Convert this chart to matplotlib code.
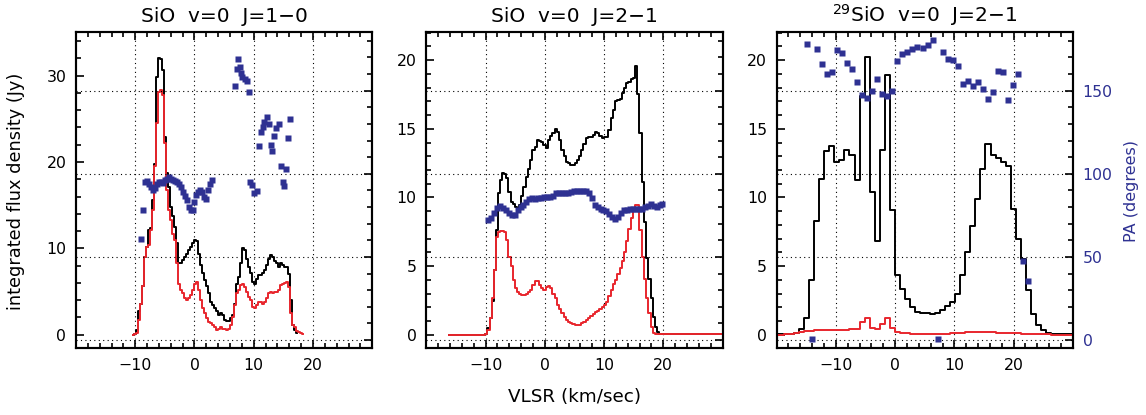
import matplotlib.pyplot as plt
from matplotlib.ticker import MultipleLocator

plt.rcParams['font.family'] = ['DejaVu Sans']

BLUE = '#2e3192'
RED = '#e8262d'

# ---- SiO v=0 J=1-0 ----
v1 = [-10.33, -9.99, -9.66, -9.32, -8.98, -8.65, -8.31, -7.97, -7.64, -7.30,
      -6.96, -6.63, -6.29, -5.95, -5.62, -5.28, -4.94, -4.61, -4.27, -3.93,
      -3.60, -3.26, -2.92, -2.58, -2.25, -1.91, -1.57, -1.24, -0.90, -0.56,
      -0.23, 0.11, 0.45, 0.78, 1.12, 1.46, 1.79, 2.13, 2.47, 2.80,
      3.14, 3.48, 3.81, 4.15, 4.49, 4.82, 5.16, 5.50, 5.83, 6.17,
      6.51, 6.84, 7.18, 7.52, 7.85, 8.19, 8.53, 8.86, 9.20, 9.54,
      9.87, 10.21, 10.55, 10.88, 11.22, 11.56, 11.89, 12.23, 12.57, 12.90,
      13.24, 13.58, 13.91, 14.25, 14.59, 14.92, 15.26, 15.60, 15.93, 16.27,
      16.61, 16.94, 17.28, 17.62, 17.95, 18.29]
black1 = [0, 0.1, 0.5, 2.7, 3.6, 5.6, 9.0, 10.2, 12.1, 12.4,
          15.6, 19.8, 29.9, 32.1, 31.9, 30.7, 22.9, 18.7, 17.1, 14.8,
          13.7, 12.5, 10.6, 8.3, 8.3, 8.6, 9.0, 9.4, 9.8, 10.2,
          10.6, 11.0, 10.8, 9.4, 8.1, 7.1, 6.3, 5.6, 4.8, 3.8,
          3.4, 3.1, 2.7, 2.3, 2.5, 2.3, 1.7, 1.6, 1.6, 1.9,
          2.3, 3.6, 5.9, 6.7, 8.3, 10.1, 9.8, 8.8, 7.9, 7.1,
          6.1, 5.9, 6.5, 6.9, 6.9, 7.1, 7.5, 8.1, 8.8, 9.2,
          9.0, 8.5, 8.3, 7.9, 8.3, 8.1, 7.9, 7.9, 7.0, 4.0,
          1.1, 0.5, 0.15]
red1 = [0, 0.05, 0.2, 1.7, 3.6, 5.6, 9.0, 10.2, 10.4, 12.1,
        14.4, 19.5, 24.5, 28.1, 28.4, 27.8, 22.2, 16.8, 14.4, 13.3,
        11.7, 11.0, 8.3, 5.9, 5.2, 4.8, 4.2, 4.0, 4.2, 4.6,
        5.2, 5.9, 6.1, 5.2, 4.0, 3.1, 2.5, 1.9, 1.5, 1.3,
        1.1, 0.9, 0.6, 0.7, 0.9, 0.7, 0.7, 0.6, 0.7, 1.1,
        2.1, 3.4, 4.8, 5.2, 5.8, 5.9, 5.5, 5.0, 4.4, 4.0,
        3.2, 3.1, 3.4, 3.8, 3.8, 3.6, 3.8, 4.2, 4.8, 5.0,
        4.8, 5.0, 5.0, 5.2, 5.8, 5.9, 6.0, 6.1, 5.5, 2.5,
        1.1, 0.9, 0.4, 0.3, 0.25, 0.1]
pa1_v = [-9.0, -8.67, -8.33, -8.0, -7.67, -7.33, -7.0, -6.67, -6.33, -6.0,
         -5.67, -5.33, -5.0, -4.67, -4.33, -4.0, -3.67, -3.33, -3.0, -2.67,
         -2.33, -2.0, -1.67, -1.33, -1.0, -0.67, -0.33, 0.0, 0.33, 0.67,
         1.0, 1.33, 1.67, 2.0, 2.33, 2.67, 3.0,
         6.9, 7.1, 7.35, 7.6, 7.85, 8.1, 8.45, 8.8, 9.2, 9.4,
         9.7, 10.1, 10.5, 10.9, 11.2, 11.5, 11.8, 12.2, 12.6, 12.95,
         13.1, 13.45, 13.8, 14.25, 14.6, 14.95, 15.15, 15.45, 15.8, 16.2]
pa1 = [61, 78, 95, 95.5, 94, 92, 90, 91.5, 94, 95,
       95, 94.5, 96, 97, 98, 97, 96, 95.5, 95, 94,
       92, 89, 86.5, 84, 80, 78, 78.5, 83, 87, 89,
       90, 89, 86, 85, 90, 94, 96,
       153, 163, 169, 164, 160.5, 158.5, 157, 156, 149, 95,
       93.5, 88.5, 89.5, 117, 125, 128, 131, 134, 130, 117.5,
       114, 122.5, 127.5, 130, 104.5, 95, 92.8, 103, 121.7, 133]

# ---- SiO v=0 J=2-1 ----
v2 = [-16.1, -10.28, -9.9, -9.5, -9.1, -8.76, -8.45, -8.1, -7.75, -7.4, -7.05,
      -6.7, -6.3, -5.96, -5.6, -5.25, -4.9, -4.55, -4.2, -3.8, -3.43,
      -3.03, -2.64, -2.3, -1.9, -1.5, -1.16, -0.8, -0.42, -0.06, 0.34,
      0.73, 1.07, 1.46, 1.85, 2.2, 2.6, 3.0, 3.33, 3.7, 4.08,
      4.44, 4.83, 5.2, 5.56, 5.95, 6.31, 6.7, 7.07, 7.47, 7.88,
      8.28, 8.68, 9.04, 9.42, 9.8, 10.18, 10.56, 10.92, 11.3, 11.68,
      12.03, 12.42, 12.8, 13.14, 13.52, 13.92, 14.3, 14.66, 15.05, 15.4,
      15.78, 16.15, 16.55, 16.9, 17.28, 17.66, 18.03, 18.4, 18.78, 19.16,
      19.53, 19.9, 20.28, 30.0]
black2 = [0, 0, 0.1, 0.5, 1.2, 2.5, 4.7, 7.6, 10.3, 11.3, 11.8,
          11.7, 11.4, 10.4, 9.7, 9.5, 9.3, 9.1, 9.45, 10.1, 10.8,
          11.5, 12.1, 12.7, 13.45, 13.7, 14.2, 14.1, 14.05, 13.8, 13.6,
          14.2, 14.5, 14.7, 15.0, 14.8, 14.2, 13.45, 13.0, 12.6, 12.5,
          12.4, 12.4, 12.5, 12.7, 13.0, 13.45, 13.9, 14.3, 14.4, 14.4,
          14.55, 14.8, 14.7, 14.5, 14.3, 14.4, 14.4, 14.9, 15.75, 16.4,
          17.0, 17.1, 17.2, 17.6, 18.0, 18.3, 18.4, 18.6, 18.7, 19.6,
          17.5, 14.7, 11.15, 8.2, 5.6, 4.1, 2.7, 1.3, 0.56, 0.24,
          0.1, 0.07, 0.05, 0.05]
red2 = [0, 0, 0.1, 0.36, 1.2, 2.7, 4.7, 7.15, 7.5, 7.56, 7.56,
        7.5, 6.9, 5.7, 5.0, 4.0, 3.4, 3.15, 2.96, 2.9, 2.9,
        2.96, 3.15, 3.3, 3.6, 3.9, 3.9, 3.6, 3.4, 3.3, 3.5,
        3.55, 3.4, 3.0, 2.7, 2.2, 1.9, 1.6, 1.3, 1.1, 0.97,
        0.85, 0.78, 0.73, 0.72, 0.73, 0.85, 0.97, 1.1, 1.2, 1.4,
        1.5, 1.7, 1.77, 1.87, 2.0, 2.2, 2.4, 2.8, 3.3, 3.7,
        4.0, 4.4, 4.9, 5.4, 6.0, 6.8, 7.7, 8.5, 9.0, 9.45,
        9.45, 7.6, 5.7, 4.1, 2.7, 1.6, 0.6, 0.17, 0.07, 0.05,
        0.05, 0.05, 0.05, 0.05]
pa2_v = [-9.6, -9.1, -8.6, -8.1, -7.6, -7.1, -6.6, -6.1, -5.6, -5.1,
         -4.6, -4.1, -3.6, -3.1, -2.6, -2.1, -1.6, -1.1, -0.6, -0.1,
         0.4, 0.9, 1.4, 1.9, 2.4, 2.9, 3.4, 3.9, 4.4, 4.9,
         5.4, 5.9, 6.4, 6.9, 7.4, 7.9, 8.4, 8.9, 9.4, 9.9,
         10.4, 10.9, 11.4, 11.9, 12.4, 12.9, 13.4, 13.9, 14.4, 14.9,
         15.4, 15.9, 16.4, 16.9, 17.4, 17.9, 18.4, 18.9, 19.4, 19.7]
pa2 = [72, 73.5, 76.5, 79.5, 80.5, 79.5, 78.5, 76.5, 75, 75.5,
       78, 80, 81.5, 83, 84.8, 85.2, 85, 85.4, 85.6, 85.8,
       86, 86.3, 86.8, 88.3, 88.6, 88.2, 88.2, 88.4, 89, 89.4,
       89.8, 89.7, 89.6, 89.4, 88.4, 85.5, 81.5, 79.8, 79, 78.5,
       77.5, 76, 74.2, 72.8, 73.8, 76.5, 78, 78.4, 78.6, 78.6,
       78.6, 78.8, 78.8, 79.8, 80.6, 81.8, 80.5, 80.2, 81.2, 81.8]

# ---- 29SiO v=0 J=2-1 ----
v3 = [-20.03, -19.18, -18.33, -17.48, -16.63, -15.78, -14.93, -14.08, -13.23, -12.38,
      -11.53, -10.68, -9.83, -8.98, -8.13, -7.28, -6.43, -5.58, -4.73, -3.88,
      -3.03, -2.18, -1.33, -0.48, 0.37, 1.22, 2.07, 2.92, 3.77, 4.62,
      5.47, 6.32, 7.17, 8.02, 8.87, 9.72, 10.57, 11.42, 12.27, 13.12,
      13.97, 14.82, 15.67, 16.52, 17.37, 18.22, 19.07, 19.92, 20.77, 21.62,
      22.47, 23.32, 24.17, 25.02, 25.87, 26.72, 27.57, 28.42, 29.27, 30.12]
black3 = [0.05, 0.05, 0.05, 0.08, 0.12, 0.46, 1.24, 3.98, 8.3, 11.37,
          13.36, 13.75, 12.58, 12.75, 13.45, 13.07, 11.3, 17.4, 20.2, 10.4,
          6.84, 13.45, 18.9, 9.1, 4.36, 3.32, 2.6, 2.0, 1.7, 1.58,
          1.58, 1.5, 1.58, 1.8, 2.1, 2.4, 3.0, 4.36, 6.0, 7.9,
          9.87, 12.05, 13.9, 13.07, 12.87, 12.58, 12.27, 9.19, 7.0, 5.55,
          3.25, 1.55, 0.7, 0.34, 0.15, 0.05, 0.05, 0.05, 0.05, 0.05]
red3 = [0.02, 0.02, 0.05, 0.08, 0.15, 0.22, 0.3, 0.32, 0.35, 0.35,
        0.35, 0.37, 0.37, 0.37, 0.38, 0.4, 0.42, 0.97, 1.2, 0.48,
        0.45, 0.8, 1.2, 0.48, 0.2, 0.15, 0.12, 0.1, 0.08, 0.08,
        0.08, 0.08, 0.08, 0.1, 0.1, 0.12, 0.14, 0.16, 0.18, 0.2,
        0.22, 0.22, 0.2, 0.18, 0.16, 0.14, 0.15, 0.12, 0.12, 0.1,
        0.08, 0.07, 0.05, 0.05, 0.04, 0.03, 0.03, 0.03, 0.03, 0.03]
pa3_v = [-14.93, -14.08, -13.23, -12.38, -11.53, -10.68, -9.83, -8.98, -8.13, -7.28,
         -6.43, -5.58, -4.73, -3.88, -3.03, -2.18, -1.33, -0.48, 0.37, 1.22,
         2.07, 2.92, 3.77, 4.62, 5.47, 6.32, 7.17, 8.02, 8.87, 9.72,
         10.57, 11.42, 12.27, 13.12, 13.97, 14.82, 15.67, 16.52, 17.37, 18.22,
         19.07, 19.92, 20.77, 21.62, 22.47]
pa3 = [178.3, 0.8, 174.9, 166.2, 160.2, 161.2, 174.3, 172.9, 166.8, 163.2,
       155.2, 147.2, 145.8, 150, 157.2, 148.2, 146.6, 149.6, 167.8, 172.2,
       173.3, 175.3, 176.5, 175.9, 177.7, 180.3, 0.8, 173.3, 169.2, 168.2,
       164.8, 154.2, 155.6, 152.8, 155.2, 151.2, 145.2, 149.2, 161.8, 161.2,
       144.6, 153.6, 160.2, 47.7, 35.3]

titles = ['SiO  v=0  J=1\u22120', 'SiO  v=0  J=2\u22121', '$^{29}$SiO  v=0  J=2\u22121']
panels = [(v1, black1, red1, pa1_v, pa1, (-1.54, 35.06), [0, 10, 20, 30], 2),
          (v2, black2, red2, pa2_v, pa2, (-0.95, 22.04), [0, 5, 10, 15, 20], 1),
          (v3, black3, red3, pa3_v, pa3, (-0.95, 22.04), [0, 5, 10, 15, 20], 1)]
lefts = [0.0663, 0.3720, 0.6777]

fig = plt.figure(figsize=(11.46, 4.15), dpi=100)
grid_style = dict(color='k', linestyle=(0, (1, 3)), linewidth=0.8)

for i, (v, blk, red, pv, pa, ylim, yt, ymin) in enumerate(panels):
    ax = fig.add_axes([lefts[i], 0.1614, 0.2585, 0.7615])
    ax.step(v[:len(blk)], blk, where='mid', color='k', lw=1.4, zorder=3)
    ax.step(v[:len(red)], red, where='mid', color=RED, lw=1.4, zorder=4)
    ax.set_xlim(-20, 30)
    ax.set_ylim(*ylim)
    ax.set_xticks([-10, 0, 10, 20])
    ax.xaxis.set_minor_locator(MultipleLocator(2))
    ax.set_yticks(yt)
    ax.yaxis.set_minor_locator(MultipleLocator(ymin))
    ax.tick_params(which='both', direction='in', top=True, bottom=True,
                   left=True, right=False, width=1.2, labelsize=11.3, pad=7)
    ax.tick_params(which='major', length=6)
    ax.tick_params(which='minor', length=3.5)
    ax.grid(axis='x', which='major', **grid_style)
    for s in ax.spines.values():
        s.set_linewidth(1.5)
    ax.set_title(titles[i], fontsize=14.5, pad=7)

    ax2 = ax.twinx()
    ax2.plot(pv, pa, 's', color=BLUE, ms=4.4, mec='none', zorder=5)
    ax2.set_ylim(-4.8, 185.3)
    ax2.set_yticks([0, 50, 100, 150])
    ax2.yaxis.set_minor_locator(MultipleLocator(10))
    ax2.tick_params(which='both', direction='in', right=True, left=False,
                    width=1.2, labelsize=11.3, pad=7, labelcolor=BLUE,
                    labelright=(i == 2))
    ax2.tick_params(which='major', length=6)
    ax2.tick_params(which='minor', length=3.5)
    ax2.grid(axis='y', which='major', **grid_style)
    for s in ax2.spines.values():
        s.set_linewidth(1.5)

fig.text(0.014, 0.54, 'integrated flux density (Jy)', rotation=90,
         fontsize=12.8, ha='center', va='center')
fig.text(0.501, 0.043, 'VLSR (km/sec)', fontsize=13.2, ha='center', va='center')
fig.text(0.987, 0.54, 'PA (degrees)', rotation=90, fontsize=11.5,
         ha='center', va='center', color=BLUE)

fig.savefig('out.png', dpi=100)
